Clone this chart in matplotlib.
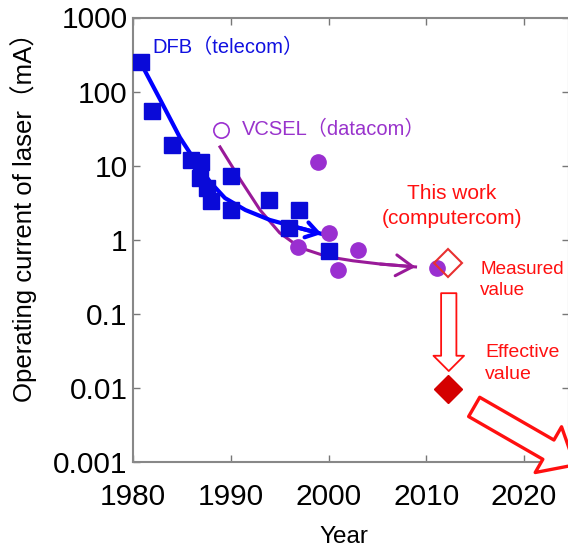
import matplotlib

matplotlib.use("Agg")

import matplotlib.pyplot as plt

plt.rcParams["font.family"] = ["Liberation Sans", "Noto Sans CJK JP", "DejaVu Sans"]

# DFB lasers (telecom), filled squares
dfb_year = [1980.8, 1981.9, 1984.0, 1985.9, 1987.0, 1986.9, 1987.6, 1988.0,
            1990.0, 1990.0, 1993.9, 1997.0, 1996.0, 2000.0]
dfb_current = [250, 55, 19, 12, 11.2, 6.8, 5.0, 3.3, 7.3, 2.5, 3.4, 2.5, 1.44, 0.71]

# VCSEL (datacom), circles
vcsel_open_year = [1989.0]
vcsel_open_current = [30]
vcsel_year = [1998.9, 2000.0, 1996.9, 2001.0, 2003.0, 2011.1]
vcsel_current = [11.2, 1.24, 0.80, 0.39, 0.73, 0.42]

# trend curves
dfb_trend_year = [1980.8, 1982.8, 1984.8, 1986.3, 1987.9, 1989.4, 1991.5, 1994.0, 1996.6, 1999.3]
dfb_trend_current = [243, 77, 24, 11.9, 6.0, 3.66, 2.52, 1.85, 1.49, 1.2]
vcsel_trend_year = [1988.9, 1991.0, 1993.0, 1995.0, 1997.1, 1999.9, 2002.5, 2005.3, 2008.9]
vcsel_trend_current = [17.9, 6.4, 2.52, 1.24, 0.78, 0.59, 0.52, 0.47, 0.43]

# this work
measured_year, measured_current = 2012.2, 0.49
effective_year, effective_current = 2012.2, 0.0098

# block arrows (start, end) in data units
down_arrow = [(2012.3, 0.19), (2012.3, 0.0169)]
future_arrow = [(2014.9, 0.00554), (2025.2, 0.000914)]

year_ticks = [1980, 1990, 2000, 2010, 2020]
current_ticks = [0.001, 0.01, 0.1, 1, 10, 100, 1000]
current_labels = ["0.001", "0.01", "0.1", "1", "10", "100", "1000"]

BLUE = "#0a0ad8"
PURPLE_DOT = "#9a2fd0"
PURPLE_LINE = "#991a99"
RED = "#ff1010"


def main() -> None:
    fig = plt.figure(figsize=(5.68, 5.48), dpi=100)
    ax = fig.add_axes([133 / 568, 1 - 462 / 548, 436 / 568, 444.5 / 548])
    ax.set_yscale("log")
    ax.set_xlim(1980, 2024.6)
    ax.set_ylim(0.001, 1000)

    # trend curves
    ax.plot(vcsel_trend_year, vcsel_trend_current, color=PURPLE_LINE, lw=2.2, zorder=2)
    ax.annotate("", xy=(vcsel_trend_year[-1], vcsel_trend_current[-1]),
                xytext=(vcsel_trend_year[-2], vcsel_trend_current[-2]),
                arrowprops=dict(arrowstyle="->,head_length=1.2,head_width=0.75",
                                color=PURPLE_LINE, lw=2.2, mutation_scale=10,
                                shrinkA=0, shrinkB=0), zorder=2)
    ax.plot(dfb_trend_year, dfb_trend_current, color="#0000ff", lw=3, zorder=3)
    ax.annotate("", xy=(dfb_trend_year[-1], dfb_trend_current[-1]),
                xytext=(dfb_trend_year[-2], dfb_trend_current[-2]),
                arrowprops=dict(arrowstyle="->,head_length=0.85,head_width=0.55",
                                color="#0000ff", lw=3, mutation_scale=10,
                                shrinkA=0, shrinkB=0), zorder=3)

    # data points
    ax.plot(dfb_year, dfb_current, ls="none", marker="s", ms=11, color=BLUE, zorder=4)
    ax.plot(vcsel_year, vcsel_current, ls="none", marker="o", ms=11, color=PURPLE_DOT,
            mec=PURPLE_DOT, zorder=5)
    ax.plot(vcsel_open_year, vcsel_open_current, ls="none", marker="o", ms=11,
            mfc="white", mec=PURPLE_DOT, mew=1.2, zorder=5)
    ax.plot([measured_year], [measured_current], ls="none", marker="D", ms=14,
            mfc="none", mec="#e83030", mew=1.5, zorder=6)
    ax.plot([effective_year], [effective_current], ls="none", marker="D", ms=14,
            color="#d40000", zorder=6)

    # block arrows
    ax.annotate("", xy=down_arrow[1], xytext=down_arrow[0],
                arrowprops=dict(arrowstyle="simple,head_length=1.1,head_width=2.2,tail_width=1.1",
                                fc="white", ec=RED, lw=1.3, mutation_scale=10,
                                shrinkA=0, shrinkB=0))
    ax.annotate("", xy=future_arrow[1], xytext=future_arrow[0], annotation_clip=False,
                arrowprops=dict(arrowstyle="simple,head_length=1.1,head_width=1.9,tail_width=0.8",
                                fc="white", ec=RED, lw=2.4, mutation_scale=20,
                                shrinkA=0, shrinkB=0, clip_on=False))

    # labels
    ax.text(1982.0, 390, "DFB（telecom）", color="#1010e0", fontsize=14.5, ha="left", va="center")
    ax.text(1991.1, 31, "VCSEL（datacom）", color="#9933cc", fontsize=14.5, ha="left", va="center")
    ax.text(2012.6, 2.85, "This work\n(computercom)", color=RED, fontsize=15,
            ha="center", va="center", linespacing=1.4)
    ax.text(2015.5, 0.285, "Measured\nvalue", color=RED, fontsize=13.6,
            ha="left", va="center", linespacing=1.3)
    ax.text(2016.0, 0.0215, "Effective\nvalue", color=RED, fontsize=14,
            ha="left", va="center", linespacing=1.35)

    ax.set_xticks(year_ticks)
    ax.set_xticklabels([str(y) for y in year_ticks])
    ax.set_yticks(current_ticks)
    ax.set_yticklabels(current_labels)
    ax.minorticks_off()
    ax.tick_params(direction="in", length=5, width=1, color="#777777", labelsize=21.5,
                   top=True, right=True)
    ax.tick_params(axis="x", pad=15)
    ax.tick_params(axis="y", pad=4)
    for spine in ax.spines.values():
        spine.set_color("#888888")
        spine.set_linewidth(1.5)

    ax.set_xlabel("Year", fontsize=17.5)
    ax.set_ylabel("Operating current of laser（mA）", fontsize=18.5)
    ax.xaxis.set_label_coords(0.483, -0.145)
    ax.yaxis.set_label_coords(-0.22, 0.565)

    fig.savefig("out.png", dpi=100)
    plt.close(fig)


if __name__ == "__main__":
    main()
